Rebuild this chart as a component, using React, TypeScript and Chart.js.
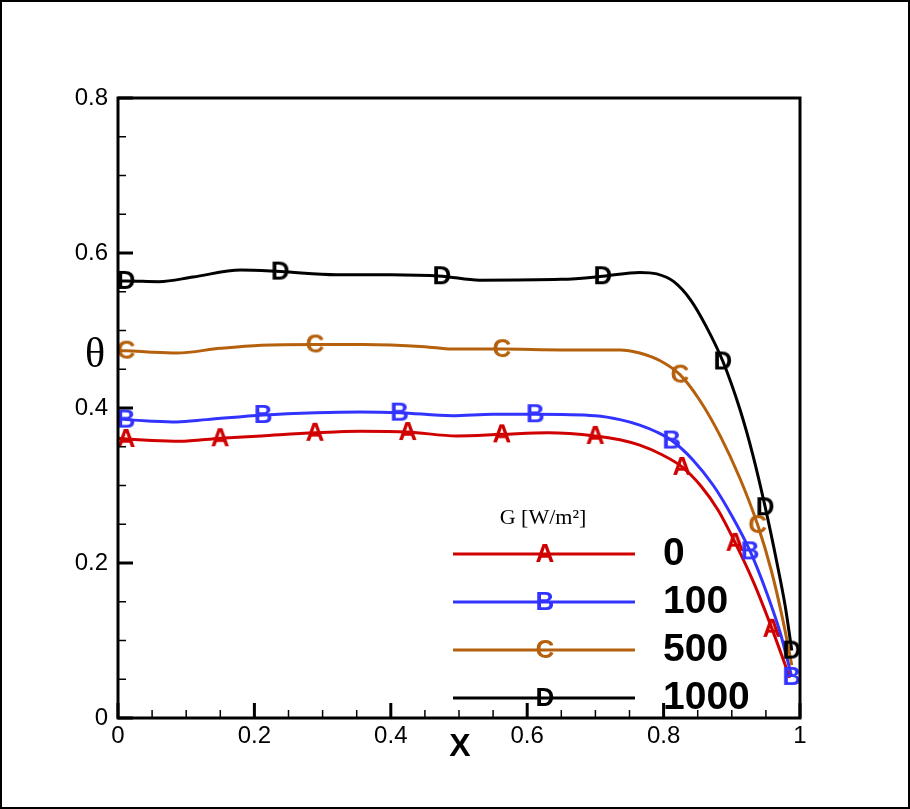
import { useEffect, useRef } from 'react';
import { Chart, registerables } from 'chart.js';

Chart.register(...registerables);

// G = 0 W/m2
const xA = [0, 0.012, 0.05, 0.09, 0.15, 0.21, 0.289, 0.355, 0.425, 0.497, 0.563, 0.63, 0.7, 0.736, 0.765, 0.797, 0.827, 0.855, 0.88, 0.905, 0.932, 0.959, 0.985];
const yA = [0.361, 0.36, 0.358, 0.357, 0.361, 0.364, 0.368, 0.37, 0.369, 0.364, 0.366, 0.368, 0.364, 0.359, 0.352, 0.34, 0.324, 0.299, 0.268, 0.226, 0.175, 0.115, 0.052];
const markA = [1, 4, 6, 8, 10, 12, 16, 19, 21];

// G = 100
const xB = [0, 0.012, 0.05, 0.086, 0.13, 0.213, 0.29, 0.355, 0.413, 0.49, 0.55, 0.612, 0.7, 0.736, 0.765, 0.79, 0.812, 0.843, 0.873, 0.9, 0.927, 0.951, 0.971, 0.988];
const yB = [0.386, 0.385, 0.383, 0.382, 0.385, 0.391, 0.394, 0.395, 0.394, 0.39, 0.392, 0.392, 0.39, 0.385, 0.378, 0.369, 0.358, 0.333, 0.3, 0.261, 0.215, 0.162, 0.11, 0.053];
const markB = [1, 5, 8, 11, 16, 20, 23];

// G = 500
const xC = [0, 0.012, 0.05, 0.086, 0.15, 0.21, 0.289, 0.36, 0.45, 0.49, 0.563, 0.65, 0.736, 0.765, 0.795, 0.824, 0.853, 0.883, 0.912, 0.938, 0.958, 0.975, 0.988];
const yC = [0.474, 0.474, 0.472, 0.471, 0.477, 0.481, 0.482, 0.482, 0.479, 0.476, 0.476, 0.475, 0.475, 0.471, 0.461, 0.443, 0.41, 0.364, 0.309, 0.249, 0.19, 0.126, 0.068];
const markC = [1, 6, 10, 15, 19];

// G = 1000
const xD = [0, 0.012, 0.06, 0.11, 0.18, 0.238, 0.32, 0.4, 0.475, 0.53, 0.65, 0.711, 0.765, 0.79, 0.815, 0.84, 0.862, 0.887, 0.912, 0.931, 0.949, 0.966, 0.978, 0.988];
const yD = [0.564, 0.564, 0.563, 0.569, 0.578, 0.576, 0.572, 0.572, 0.57, 0.565, 0.566, 0.57, 0.575, 0.573, 0.563, 0.539, 0.506, 0.46, 0.398, 0.339, 0.272, 0.201, 0.146, 0.087];
const markD = [1, 5, 8, 11, 17, 20, 23];

const series = [
  { label: '0', letter: 'A', color: '#d00000', xs: xA, ys: yA, marks: markA },
  { label: '100', letter: 'B', color: '#3333ff', xs: xB, ys: yB, marks: markB },
  { label: '500', letter: 'C', color: '#b5600c', xs: xC, ys: yC, marks: markC },
  { label: '1000', letter: 'D', color: '#000000', xs: xD, ys: yD, marks: markD },
];

const xTicks = [0, 0.2, 0.4, 0.6, 0.8, 1];
const yTicks = [0, 0.2, 0.4, 0.6, 0.8];
const legendTitle = 'G [W/m²]';

const SANS = '"Liberation Sans", Arial, sans-serif';
const SERIF = '"Liberation Serif", "Times New Roman", serif';

function letterImage(letter: string, color: string) {
  const c = document.createElement('canvas');
  c.width = 30;
  c.height = 30;
  const g = c.getContext('2d')!;
  g.font = `bold 26px ${SANS}`;
  g.fillStyle = color;
  g.textAlign = 'center';
  g.textBaseline = 'middle';
  g.fillText(letter, 15, 16);
  return c;
}

export default function App() {
  const ref = useRef<HTMLCanvasElement | null>(null);

  useEffect(() => {
    if (!ref.current) return;
    const imgs = series.map((s) => letterImage(s.letter, s.color));

    const frame = {
      id: 'frame',
      afterDraw(chart: any) {
        const { ctx, chartArea: a, scales } = chart;
        const xs = scales.x;
        const ys = scales.y;
        ctx.save();
        // outer border
        ctx.strokeStyle = '#000';
        ctx.lineWidth = 2;
        ctx.strokeRect(1, 1, chart.width - 2, chart.height - 2);
        // plot frame
        ctx.lineWidth = 3;
        ctx.strokeRect(a.left, a.top, a.right - a.left, a.bottom - a.top);
        // ticks, inward
        for (let i = 0; i <= 20; i++) {
          const major = i % 4 === 0;
          const px = xs.getPixelForValue(i * 0.05);
          ctx.lineWidth = major ? 3 : 1.5;
          ctx.beginPath();
          ctx.moveTo(px, a.bottom);
          ctx.lineTo(px, a.bottom - (major ? 15 : 8));
          ctx.stroke();
        }
        for (let i = 0; i <= 16; i++) {
          const major = i % 4 === 0;
          const py = ys.getPixelForValue(i * 0.05);
          ctx.lineWidth = major ? 3 : 1.5;
          ctx.beginPath();
          ctx.moveTo(a.left, py);
          ctx.lineTo(a.left + (major ? 15 : 8), py);
          ctx.stroke();
        }
        // axis titles
        ctx.fillStyle = '#000';
        ctx.textAlign = 'center';
        ctx.textBaseline = 'middle';
        ctx.font = `bold 32px ${SANS}`;
        ctx.fillText('X', (a.left + a.right) / 2 + 1, a.bottom + 29);
        ctx.font = `42px ${SERIF}`;
        ctx.fillText('θ', 95, ys.getPixelForValue(0.47) + 2);
        // legend
        ctx.font = `22px ${SERIF}`;
        ctx.fillText(legendTitle, 543, 518);
        series.forEach((s, i) => {
          const y = 554 + i * 48;
          ctx.strokeStyle = s.color;
          ctx.lineWidth = 3;
          ctx.beginPath();
          ctx.moveTo(453, y);
          ctx.lineTo(635, y);
          ctx.stroke();
          ctx.drawImage(imgs[i], 545 - 15, y - 15);
          ctx.fillStyle = '#000';
          ctx.textAlign = 'left';
          ctx.font = `bold 39px ${SANS}`;
          ctx.fillText(s.label, 663, y);
        });
        ctx.restore();
      },
    };

    const tickFmt = (v: any) => String(Number(Number(v).toFixed(1)));

    const chart = new Chart(ref.current, {
      type: 'line',
      data: {
        datasets: series.map((s, i) => ({
          label: s.label,
          data: s.xs.map((x, k) => ({ x, y: s.ys[k] })),
          borderColor: s.color,
          backgroundColor: s.color,
          borderWidth: 3,
          cubicInterpolationMode: 'monotone' as const,
          pointStyle: imgs[i],
          pointRadius: (c: any) => (s.marks.includes(c.dataIndex) ? 8 : 0),
          order: 4 - i,
          clip: false as any,
        })),
      },
      options: {
        animation: false,
        responsive: false,
        devicePixelRatio: 1,
        layout: { padding: { left: 0, top: 98, right: 110, bottom: 0 } },
        plugins: { legend: { display: false }, tooltip: { enabled: false } },
        scales: {
          x: {
            type: 'linear',
            min: 0,
            max: 1,
            afterFit: (sc: any) => { sc.height = 91; },
            afterBuildTicks: (sc: any) => { sc.ticks = xTicks.map((v) => ({ value: v })); },
            grid: { display: false, drawTicks: false },
            border: { display: false },
            ticks: { padding: 4, color: '#000', font: { family: SANS, size: 24 }, callback: tickFmt },
          },
          y: {
            type: 'linear',
            min: 0,
            max: 0.8,
            afterFit: (sc: any) => { sc.width = 118; },
            afterBuildTicks: (sc: any) => { sc.ticks = yTicks.map((v) => ({ value: v })); },
            grid: { display: false, drawTicks: false },
            border: { display: false },
            ticks: { padding: 10, color: '#000', font: { family: SANS, size: 24 }, callback: tickFmt },
          },
        },
      },
      plugins: [frame],
    });
    return () => chart.destroy();
  }, []);

  return (
    <div style={{ position: 'absolute', left: 0, top: 0, width: 910, height: 809, background: '#fff' }}>
      <canvas ref={ref} width={910} height={809} style={{ display: 'block', width: 910, height: 809 }}></canvas>
    </div>
  );
}
